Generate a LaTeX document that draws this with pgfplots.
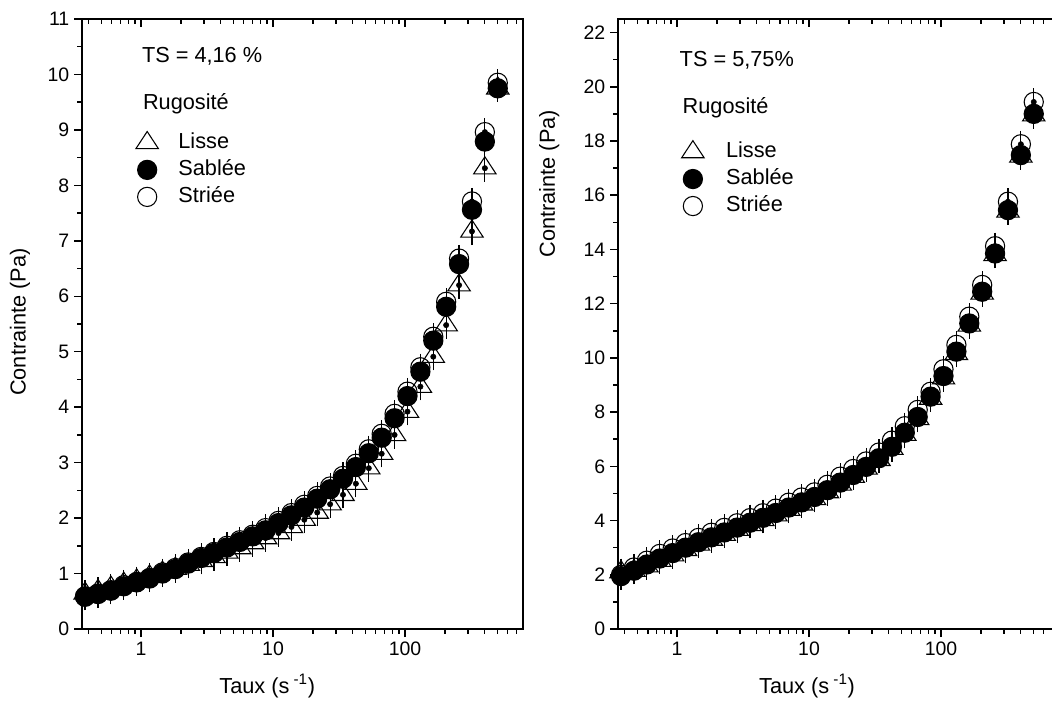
\documentclass[border=0pt]{standalone}
\usepackage{pgfplots}
\usepackage{pgfplotstable}
\pgfplotsset{compat=1.18}
\usepackage{fontspec}
\setmainfont{Liberation Sans}

\pgfplotstableread{
x lisse sablee striee
0.3767 0.64 0.58 0.59
0.4718 0.69 0.63 0.64
0.5906 0.75 0.69 0.70
0.7397 0.82 0.77 0.79
0.9264 0.88 0.84 0.85
1.1600 0.95 0.91 0.92
1.4528 1.02 1.00 1.02
1.8192 1.09 1.08 1.10
2.2784 1.16 1.18 1.20
2.8532 1.23 1.28 1.30
3.5727 1.30 1.37 1.39
4.4739 1.38 1.47 1.50
5.6026 1.46 1.57 1.60
7.0162 1.55 1.67 1.70
8.786  1.64 1.78 1.82
11.003 1.73 1.91 1.95
13.78  1.84 2.05 2.09
17.25  1.97 2.19 2.24
21.61  2.10 2.35 2.40
27.06  2.25 2.52 2.57
33.88  2.42 2.71 2.76
42.43  2.62 2.92 2.98
53.14  2.90 3.17 3.24
66.55  3.16 3.45 3.52
83.33  3.50 3.80 3.88
104.35 3.92 4.20 4.28
130.7  4.37 4.64 4.72
163.7  4.91 5.20 5.27
204.9  5.48 5.81 5.90
256.7  6.20 6.58 6.68
321.4  7.17 7.56 7.71
402.5  8.31 8.79 8.96
504.0  9.75 9.75 9.85
}\dataL

\pgfplotstableread{
x lisse sablee striee
0.3767 2.10 1.95 2.00
0.4718 2.15 2.15 2.27
0.5906 2.32 2.38 2.52
0.7397 2.52 2.60 2.77
0.9264 2.72 2.80 2.97
1.1600 2.92 3.00 3.17
1.4528 3.12 3.20 3.36
1.8192 3.30 3.38 3.55
2.2784 3.48 3.56 3.73
2.8532 3.66 3.74 3.90
3.5727 3.84 3.92 4.09
4.4739 4.02 4.10 4.27
5.6026 4.20 4.28 4.44
7.0162 4.40 4.48 4.66
8.786  4.60 4.67 4.85
11.003 4.80 4.87 5.04
13.78  5.05 5.12 5.32
17.25  5.33 5.40 5.62
21.61  5.62 5.68 5.90
27.06  5.92 5.98 6.18
33.88  6.24 6.30 6.51
42.43  6.65 6.72 6.95
53.14  7.17 7.24 7.48
66.55  7.75 7.82 8.08
83.33  8.50 8.57 8.75
104.35 9.25 9.33 9.58
130.7  10.15 10.23 10.48
163.7  11.20 11.27 11.52
204.9  12.38 12.44 12.69
256.7  13.80 13.85 14.12
321.4  15.40 15.45 15.76
402.5  17.43 17.48 17.88
504.0  18.95 19.00 19.44
}\dataR

\pgfplotsset{
  myaxis/.style={
    scale only axis, width=330.75pt, height=457.5pt,
    xmin=0.357, xmax=783,
    axis line style={line width=1.4pt},
    every tick/.style={black, line width=1.1pt},
    every minor tick/.style={black, line width=1.1pt},
    major tick length=6pt, minor tick length=3.5pt,
    tick align=outside,
    xtick={1,10,100}, xticklabels={1,10,100},
    minor xtick={0.4,0.5,0.6,0.7,0.8,0.9,2,3,4,5,6,7,8,9,20,30,40,50,60,70,80,90,200,300,400,500,600,700},
    xtick pos=bottom, ytick pos=left,
    ticklabel style={font=\fontsize{14.6}{18}\selectfont},
    /pgf/number format/assume math mode=true,
    label style={font=\fontsize{16.3}{19}\selectfont},
    legend cell align=left,
  },
  mytopticks/.style={
    hide y axis, xtick pos=top, tick align=inside, xticklabels={},
  },
  mylisse/.style={only marks, mark=triangle, mark size=9.7pt,
    mark options={fill=white, draw=black, line width=0.8pt, yscale=0.88}},
  mysablee/.style={only marks, mark=*, mark size=7.2pt,
    mark options={fill=black, draw=black, line width=0.8pt}},
  mystriee/.style={only marks, mark=o, mark size=7.2pt,
    mark options={fill=white, draw=black, line width=0.8pt}},
  myeb/.style={forget plot, only marks, mark=none,
    error bars/.cd, y dir=both, y fixed=#1,
    error bar style={line width=0.9pt, black},
    error mark options={black, line width=0.9pt, mark size=4pt}},
  myleg/.style={legend style={draw=none, fill=none, inner sep=0pt,
    font=\fontsize{16.3}{19}\selectfont, row sep=4.25pt,
    nodes={inner sep=0pt, text height=12pt, text depth=4pt}}},
}

\begin{document}
\begin{tikzpicture}
\path[use as bounding box] (-61.5pt,-54.75pt) rectangle (727.5pt,471.75pt);

% ---------- left panel ----------
\begin{axis}[xmode=log, myaxis, myleg, at={(0pt,0pt)}, anchor=south west,
  ymin=0, ymax=11, ytick={0,1,...,11}, minor y tick num=1,
  xlabel={Taux (s\textsuperscript{ -1})}, ylabel={Contrainte (Pa)},
  xlabel style={at={(axis description cs:0.42,-0.0934)}, anchor=center},
  ylabel style={at={(axis description cs:-0.1406,0.503)}, anchor=center},
  legend style={at={(axis description cs:0.1218,0.816)}, anchor=north west, column sep=15pt},
]
\addplot[mylisse] table[x=x,y=lisse]{\dataL}; \addlegendentry{Lisse}
\addplot[mysablee] table[x=x,y=sablee]{\dataL}; \addlegendentry{Sablée}
\addplot[mystriee] table[x=x,y=striee]{\dataL}; \addlegendentry{Striée}
\addplot[myeb=0.15] table[x=x,y=lisse]{\dataL};
\addplot[myeb=0.15] table[x=x,y=sablee]{\dataL};
\addplot[myeb=0.15] table[x=x,y=striee]{\dataL};
\node[anchor=base west, font=\fontsize{16.3}{19}\selectfont] at (rel axis cs:0.1254,0.928) {TS = 4,16 \%};
\node[anchor=base west, font=\fontsize{16.3}{19}\selectfont] at (rel axis cs:0.1277,0.851) {Rugosité};
\end{axis}
\begin{axis}[xmode=log, myaxis, mytopticks, at={(0pt,0pt)}, anchor=south west, ymin=0, ymax=11]
\addplot[draw=none, forget plot] coordinates {(1,1)};
\end{axis}

% ---------- right panel ----------
\begin{axis}[xmode=log, myaxis, myleg, at={(402pt,0pt)}, anchor=south west,
  ymin=0, ymax=22.5, ytick={0,2,...,22}, minor y tick num=1,
  xlabel={Taux (s\textsuperscript{ -1})}, ylabel={Contrainte (Pa)},
  xlabel style={at={(axis description cs:0.4286,-0.0934)}, anchor=center},
  ylabel style={at={(axis description cs:-0.156,0.73)}, anchor=center},
  legend style={at={(axis description cs:0.1438,0.801)}, anchor=north west, column sep=16.5pt},
]
\addplot[mylisse] table[x=x,y=lisse]{\dataR}; \addlegendentry{Lisse}
\addplot[mysablee] table[x=x,y=sablee]{\dataR}; \addlegendentry{Sablée}
\addplot[mystriee] table[x=x,y=striee]{\dataR}; \addlegendentry{Striée}
\addplot[myeb=0.3] table[x=x,y=lisse]{\dataR};
\addplot[myeb=0.3] table[x=x,y=sablee]{\dataR};
\addplot[myeb=0.3] table[x=x,y=striee]{\dataR};
\node[anchor=base west, font=\fontsize{16.3}{19}\selectfont] at (rel axis cs:0.1293,0.922) {TS = 5,75\%};
\node[anchor=base west, font=\fontsize{16.3}{19}\selectfont] at (rel axis cs:0.136,0.845) {Rugosité};
\end{axis}
\begin{axis}[xmode=log, myaxis, mytopticks, at={(402pt,0pt)}, anchor=south west, ymin=0, ymax=22.5]
\addplot[draw=none, forget plot] coordinates {(1,1)};
\end{axis}
\end{tikzpicture}
\end{document}
